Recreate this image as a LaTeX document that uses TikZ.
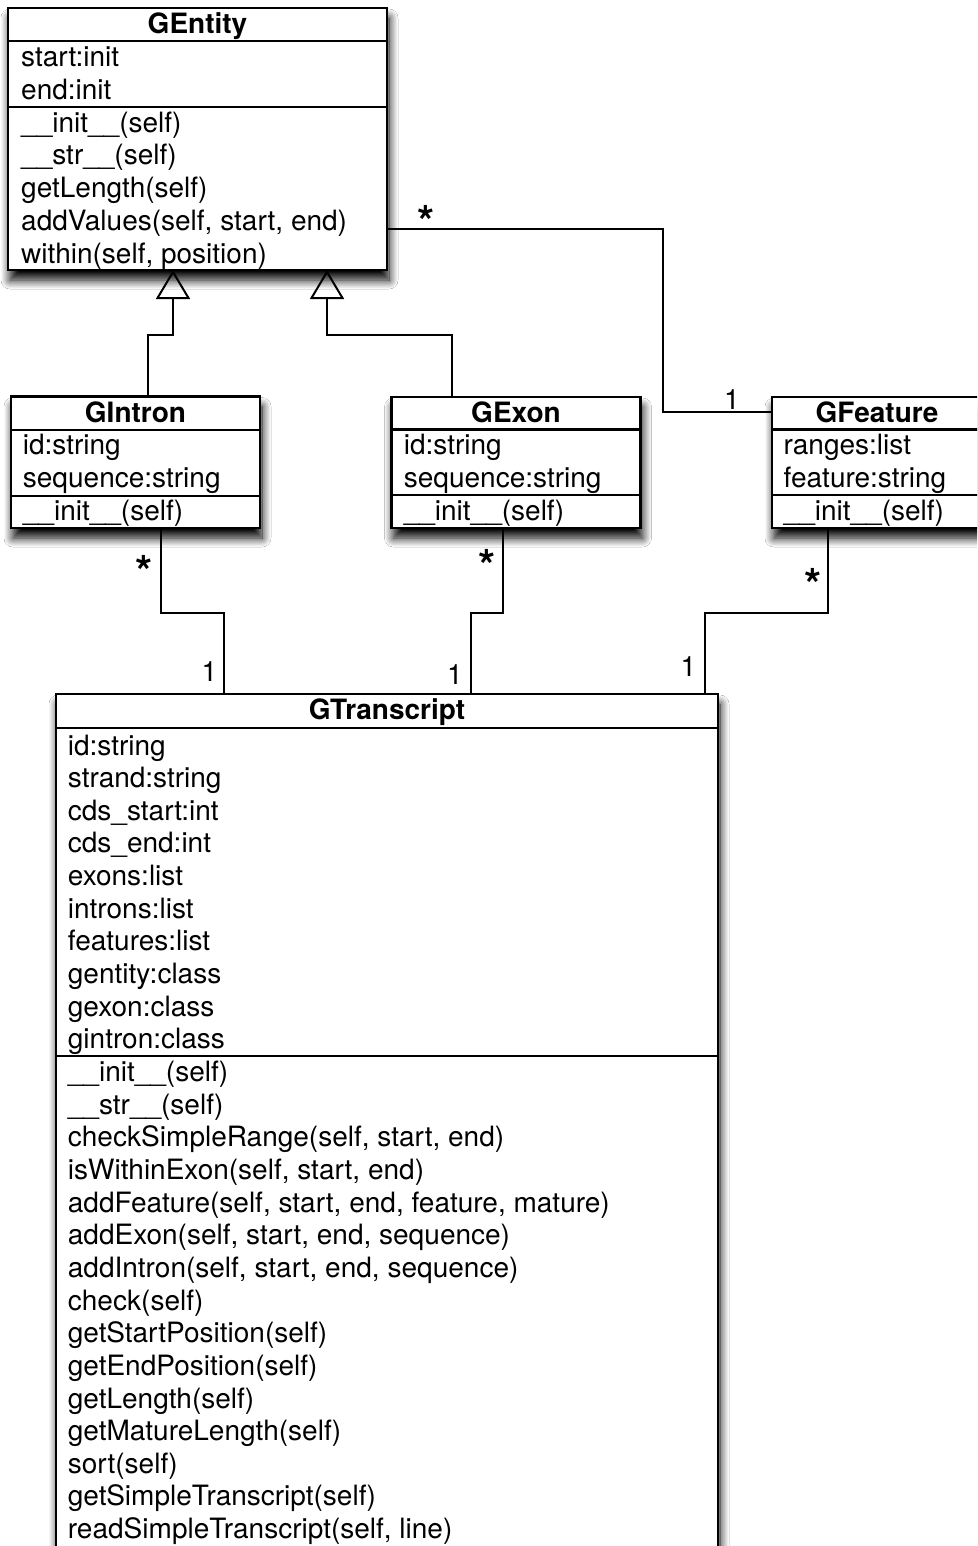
\documentclass[tikz,border=0pt]{standalone}
\usepackage{fontspec}
\setmainfont{TeX Gyre Heros}
\usetikzlibrary{arrows.meta,shadows.blur}
\begin{document}
\begin{tikzpicture}[x=1pt,y=-1pt,
  box/.style={draw=black, line width=2.3pt, fill=white, inner sep=0pt, outer sep=0pt, anchor=north west,
    blur shadow={shadow xshift=2pt, shadow yshift=-10pt, shadow blur radius=9pt, shadow opacity=100, shadow blur steps=14}},
  div/.style={line width=2.3pt},
  title/.style={font=\fontsize{28}{33}\selectfont\bfseries, anchor=base, inner sep=0pt},
  item/.style={font=\fontsize{28}{33}\selectfont, anchor=base west, inner sep=0pt},
  conn/.style={line width=2pt},
  gen/.style={conn, -{Triangle[open, length=29pt, width=34pt, line width=2pt]}},
  one/.style={font=\fontsize{28}{33}\selectfont, anchor=base, inner sep=0pt},
  many/.style={font=\fontsize{44}{44}\selectfont\bfseries, anchor=base, inner sep=0pt}]

\clip (0,0) rectangle (977,1546);
\fill[white] (0,0) rectangle (977,1546);

% ---------- boxes ----------
\node[box, minimum width=379pt, minimum height=262pt] (gentity) at (8,8) {};
\node[box, minimum width=249pt, minimum height=131.5pt] (gintron) at (11,396.5) {};
\node[box, minimum width=249pt, minimum height=131pt] (gexon) at (391.5,397) {};
\node[box, minimum width=210pt, minimum height=131pt] (gfeature) at (772,397) {};
\node[box, minimum width=662pt, minimum height=900pt] (gtranscript) at (56,694) {};

% ---------- dividers ----------
\draw[div] (8,41.3) -- (387,41.3);
\draw[div] (8,106.7) -- (387,106.7);
\draw[div] (11,430) -- (260,430);
\draw[div] (11,495.7) -- (260,495.7);
\draw[div] (391.5,429.5) -- (640.5,429.5);
\draw[div] (391.5,495) -- (640.5,495);
\draw[div] (772,429.5) -- (982,429.5);
\draw[div] (772,495) -- (982,495);
\draw[div] (56,727.7) -- (718,727.7);
\draw[div] (56,1056) -- (718,1056);

% ---------- titles ----------
\node[title] (gentity-t) at (197.5,33.3) {GEntity};
\node[title] (gintron-t) at (135.5,422.8) {GIntron};
\node[title] (gexon-t) at (516,422.3) {GExon};
\node[title] (gfeature-t) at (877,422.3) {GFeature};
\node[title] (gtranscript-t) at (387,719.5) {GTranscript};

% ---------- members ----------
\foreach \t [count=\i from 0] in {start:init, end:init, \_\_init\_\_(self), \_\_str\_\_(self),
    getLength(self), {addValues(self, start, end)}, {within(self, position)}}
  \node[item] (gentity-l\i) at (21,66.8+\i*32.7) {\t};

\foreach \t [count=\i from 0] in {id:string, sequence:string, \_\_init\_\_(self)}
  \node[item] (gintron-l\i) at (22.7,454.8+\i*33) {\t};

\foreach \t [count=\i from 0] in {id:string, sequence:string, \_\_init\_\_(self)}
  \node[item] (gexon-l\i) at (403.6,454.8+\i*33) {\t};

\foreach \t [count=\i from 0] in {ranges:list, feature:string, \_\_init\_\_(self)}
  \node[item] (gfeature-l\i) at (783.5,454.8+\i*33) {\t};

\foreach \t [count=\i from 0] in {id:string, strand:string, cds\_start:int, cds\_end:int,
    exons:list, introns:list, features:list, gentity:class, gexon:class, gintron:class,
    \_\_init\_\_(self), \_\_str\_\_(self), {checkSimpleRange(self, start, end)},
    {isWithinExon(self, start, end)}, {addFeature(self, start, end, feature, mature)},
    {addExon(self, start, end, sequence)}, {addIntron(self, start, end, sequence)},
    check(self), getStartPosition(self), getEndPosition(self), getLength(self),
    getMatureLength(self), sort(self), getSimpleTranscript(self), {readSimpleTranscript(self, line)}}
  \node[item] (gtranscript-l\i) at (67.7,755+\i*32.65) {\t};

% ---------- generalizations ----------
\draw[gen] ([xshift=137pt]gintron.north west) -- (148,335) -- (173,335) -- ([xshift=165pt]gentity.south west);
\draw[gen] ([xshift=60.2pt]gexon.north west) -- (451.7,335) -- (327,335) -- ([xshift=319pt]gentity.south west);

% ---------- associations ----------
\draw[conn] ([yshift=41pt]gentity.south east) -- (663,229) -- (663,412) -- ([yshift=-15pt]gfeature.north west);
\draw[conn] ([xshift=149.7pt]gintron.south west) -- (160.7,612.5) -- (224,612.5) -- ([xshift=168pt]gtranscript.north west);
\draw[conn] ([xshift=111.2pt]gexon.south west) -- (502.7,612.5) -- (470.7,612.5) -- ([xshift=414.7pt]gtranscript.north west);
\draw[conn] ([xshift=56.3pt]gfeature.south west) -- (828.3,612.5) -- (704.7,612.5) -- ([xshift=648.7pt]gtranscript.north west);

% ---------- multiplicities ----------
\node[many] (m1) at (426,238) {*};
\node[one] (m2) at (732,409.8) {1};
\node[many] (m3) at (144,587.7) {*};
\node[one] (m4) at (209.3,681.5) {1};
\node[many] (m5) at (486.7,581.7) {*};
\node[one] (m6) at (455,684.8) {1};
\node[many] (m7) at (812.7,600) {*};
\node[one] (m8) at (688.3,676.5) {1};
\end{tikzpicture}
\end{document}
